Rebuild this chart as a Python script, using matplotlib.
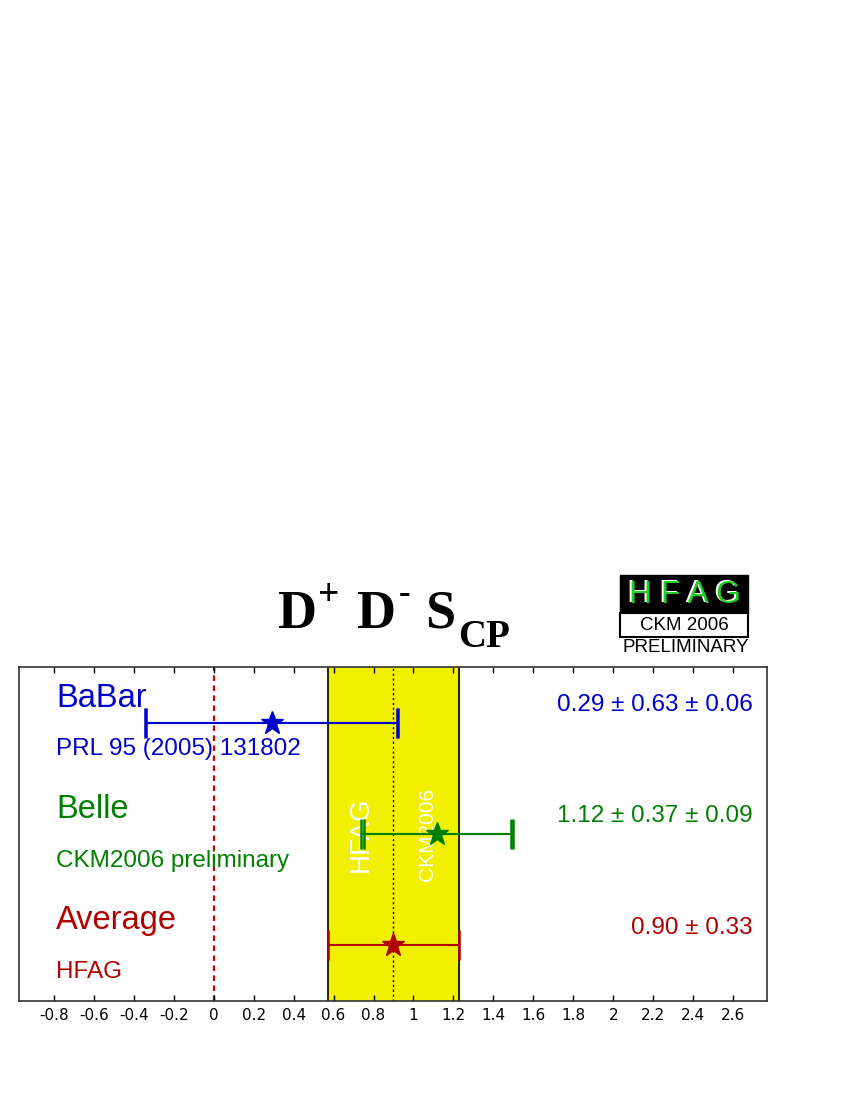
import matplotlib
matplotlib.use('Agg')
import matplotlib.pyplot as plt
from matplotlib.patches import Rectangle
import numpy as np

plt.rcParams['font.family'] = ['Liberation Sans', 'DejaVu Sans']

# measurements (value, stat, syst)
experiments = ['BaBar', 'Belle']
references = ['PRL 95 (2005) 131802', 'CKM2006 preliminary']
values = [0.29, 1.12]
stat_err = [0.63, 0.37]
syst_err = [0.06, 0.09]
value_text = [u'0.29 \u00b1 0.63 \u00b1 0.06', u'1.12 \u00b1 0.37 \u00b1 0.09']
colors = ['#0000cc', '#008000']

avg_value = 0.90
avg_err = 0.33
avg_text = u'0.90 \u00b1 0.33'
avg_color = '#b00000'

rows = [2.5, 1.5]
avg_row = 0.5
ticks = np.round(np.arange(-0.8, 2.61, 0.2), 1)
tick_labels = ['%g' % t if abs(t) > 1e-9 else '0' for t in ticks]

W, H = 850, 1100


def px(x, y):
    return x / W, 1 - y / H


fig = plt.figure(figsize=(8.5, 11), dpi=100)
ax = fig.add_axes([19/W, 99/H, 748/W, 334/H])
ax.set_xlim(-0.975, 2.77)
ax.set_ylim(0, 3)

# average band
ax.axvspan(avg_value - avg_err, avg_value + avg_err, color='#f0f000', zorder=0)
for xe in (avg_value - avg_err, avg_value + avg_err):
    ax.axvline(xe, color='black', lw=1.2, zorder=1)
ax.axvline(avg_value, color='black', lw=1, ls=(0, (1.5, 2)), zorder=1)
ax.axvline(0, color='#cc0000', lw=1.6, ls=(0, (2.5, 2)), zorder=1)

ax.text(0.737, 1.5, 'HFAG', rotation=90, color='white', fontsize=20,
        ha='center', va='center', zorder=2)
ax.text(1.068, 1.5, 'CKM2006', rotation=90, color='white', fontsize=15,
        ha='center', va='center', zorder=2)

for name, ref, v, st, sy, txt, c, y in zip(experiments, references, values,
                                           stat_err, syst_err, value_text,
                                           colors, rows):
    tot = np.hypot(st, sy)
    ax.errorbar(v, y, xerr=tot, fmt='none', ecolor=c, elinewidth=1.5,
                capsize=11, capthick=1.8, zorder=3)
    ax.errorbar(v, y, xerr=st, fmt='none', ecolor=c, elinewidth=1.5,
                capsize=11, capthick=1.8, zorder=3)
    ax.plot(v, y, marker='*', ms=17, color=c, zorder=4)
    ax.text(-0.79, y + 0.22, name, color=c, fontsize=23.5, va='center')
    ax.text(-0.79, y - 0.24, ref, color=c, fontsize=17.5, va='center')
    ax.text(2.70, y + 0.16, txt, color=c, fontsize=17.5, va='center', ha='right')

ax.errorbar(avg_value, avg_row, xerr=avg_err, fmt='none', ecolor=avg_color,
            elinewidth=1.5, capsize=11, capthick=1.8, zorder=3)
ax.plot(avg_value, avg_row, marker='*', ms=17, color=avg_color, zorder=4)
ax.text(-0.79, avg_row + 0.22, 'Average', color=avg_color, fontsize=23.5,
        va='center')
ax.text(-0.79, avg_row - 0.24, 'HFAG', color=avg_color, fontsize=17.5,
        va='center')
ax.text(2.70, avg_row + 0.16, avg_text, color=avg_color, fontsize=17.5,
        va='center', ha='right')

ax.set_xticks(ticks)
ax.set_xticklabels(tick_labels, fontsize=11, family='Liberation Sans Narrow')
ax.set_yticks([])
ax.tick_params(axis='x', top=True, bottom=True, direction='in', length=4,
               width=1, pad=5)
for s in ax.spines.values():
    s.set_linewidth(1.2)
    s.set_color('#333333')

# title, built from pieces
serif = dict(family='Liberation Serif', weight='bold', color='black',
             ha='left', va='baseline')
fig.text(*px(277, 628), 'D', fontsize=39, **serif)
fig.text(*px(318, 605), '+', fontsize=27, **serif)
fig.text(*px(356, 628), 'D', fontsize=39, **serif)
fig.text(*px(399, 603), '-', fontsize=25, **serif)
fig.text(*px(425, 628), 'S', fontsize=39, **serif)
fig.text(*px(458, 647), 'CP', fontsize=28, **serif)

# HFAG logo
fig.patches.append(Rectangle(px(620, 613), 128/W, 38/H,
                             transform=fig.transFigure, facecolor='black',
                             edgecolor='black'))
fig.patches.append(Rectangle(px(620, 637), 128/W, 24/H,
                             transform=fig.transFigure, facecolor='white',
                             edgecolor='black', lw=1.5))
fig.text(*px(683, 594), 'H F A G', color='white', fontsize=23,
         ha='center', va='center')
fig.text(*px(685, 595), 'H F A G', color='#22cc22', fontsize=23,
         ha='center', va='center')
fig.text(*px(684, 625), 'CKM 2006', color='black', fontsize=13.5,
         ha='center', va='center')
fig.text(*px(686, 648), 'PRELIMINARY', color='black', fontsize=13.5,
         ha='center', va='center')

fig.savefig('out.png', dpi=100)
